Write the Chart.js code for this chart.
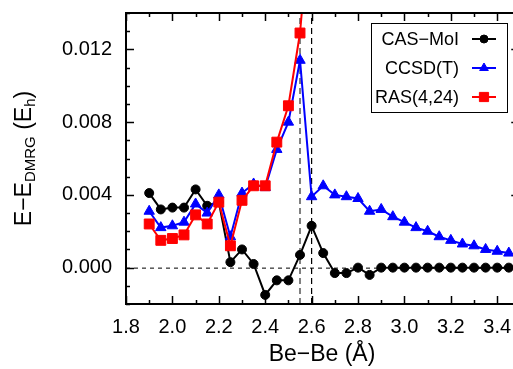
<!DOCTYPE html>
<html><head><meta charset="utf-8">
<script src="https://cdn.jsdelivr.net/npm/chart.js@4/dist/chart.umd.min.js"></script>
<style>html,body{margin:0;padding:0;background:#fff;overflow:hidden}</style>
</head><body>
<canvas id="c" width="513" height="369"></canvas>
<script>
// ---- data ----
const bondLengths = [1.90,1.95,2.00,2.05,2.10,2.15,2.20,2.25,2.30,2.35,2.40,2.45,2.50,2.55,2.60,2.65,2.70,2.75,2.80,2.85,2.90,2.95,3.00,3.05,3.10,3.15,3.20,3.25,3.30,3.35,3.40,3.45];
const casMoI = [0.0041,0.0032,0.0033,0.0033,0.0043,0.0034,0.0036,0.0003,0.0010,0.0002,-0.0015,-0.0007,-0.0007,0.0007,0.0023,0.0008,-0.0003,-0.0003,0.0000,-0.0004,0.0000,0.0000,0.0000,0.0000,0.0000,0.0000,0.0000,0.0000,0.0000,0.0000,0.0000,0.0000];
const ccsdT = [0.0031,0.0022,0.0023,0.0025,0.0035,0.0030,0.0040,0.0017,0.0041,0.0046,0.0044,0.0065,0.0080,0.0114,0.0039,0.0045,0.0040,0.0039,0.0038,0.0031,0.0032,0.0028,0.0025,0.0022,0.0020,0.0017,0.0015,0.0013,0.0012,0.0010,0.0009,0.0008];
const rasBond = [1.90,1.95,2.00,2.05,2.10,2.15,2.20,2.25,2.30,2.35,2.40,2.45,2.50,2.55,2.60];
const ras424 = [0.0024,0.0015,0.0016,0.0018,0.0029,0.0024,0.0036,0.0012,0.0037,0.0045,0.0045,0.0069,0.0089,0.0129,0.0203];
const seriesNames = ['CAS\u2212MoI','CCSD(T)','RAS(4,24)'];
const seriesColors = ['#000000','#0000ff','#ff0000'];
const seriesMarkers = ['circle','triangle','rect'];
const xTickValues = [1.8,2.0,2.2,2.4,2.6,2.8,3.0,3.2,3.4];
const yTickValues = [0.000,0.004,0.008,0.012];
const markerLineGray = 2.55;
const markerLineBlack = 2.60;
const xTitle = 'Be\u2212Be (\u00c5)';

const FONT = '"Liberation Sans", Arial, Helvetica, sans-serif';

function pts(xs, ys){ return xs.map((x,i)=>({x:x, y:ys[i]})); }

function drawMarker(ctx, type, x, y, r, color){
  ctx.save();
  ctx.fillStyle=color; ctx.strokeStyle=color; ctx.setLineDash([]); ctx.lineWidth=1;
  ctx.beginPath();
  if(type==='circle'){ ctx.arc(x,y,r,0,Math.PI*2); }
  else if(type==='triangle'){
    ctx.moveTo(x, y-r); ctx.lineTo(x+r*0.866, y+r*0.5); ctx.lineTo(x-r*0.866, y+r*0.5); ctx.closePath();
  } else { const s=r*0.707; ctx.rect(x-s,y-s,2*s,2*s); }
  ctx.fill(); ctx.stroke();
  ctx.restore();
}

const framePlugin = {
  id:'framePlugin',
  beforeDatasetsDraw(chart){
    const {ctx, chartArea:a, scales:{x,y}} = chart;
    ctx.save();
    ctx.beginPath(); ctx.rect(a.left,a.top,a.right-a.left,a.bottom-a.top); ctx.clip();
    const y0 = y.getPixelForValue(0);
    ctx.strokeStyle='#000'; ctx.lineWidth=1; ctx.setLineDash([4,4]);
    ctx.beginPath(); ctx.moveTo(a.left,y0+0.5); ctx.lineTo(a.right,y0+0.5); ctx.stroke();
    const xg = x.getPixelForValue(markerLineGray);
    ctx.strokeStyle='#808080'; ctx.lineWidth=2; ctx.setLineDash([6,4]);
    ctx.beginPath(); ctx.moveTo(xg,a.bottom); ctx.lineTo(xg,a.top); ctx.stroke();
    const xb = x.getPixelForValue(markerLineBlack);
    ctx.strokeStyle='#000'; ctx.lineWidth=1.2; ctx.setLineDash([6,4]);
    ctx.beginPath(); ctx.moveTo(xb,a.bottom); ctx.lineTo(xb,a.top); ctx.stroke();
    ctx.restore();
  },
  afterDraw(chart){
    const {ctx, chartArea:a, scales:{x,y}} = chart;
    ctx.save();
    // frame
    ctx.strokeStyle='#000'; ctx.lineWidth=2; ctx.setLineDash([]);
    ctx.beginPath();
    ctx.moveTo(a.right+6, a.top); ctx.lineTo(a.left, a.top); ctx.lineTo(a.left, a.bottom); ctx.lineTo(a.right+6, a.bottom);
    ctx.stroke();
    const rightAxis = x.getPixelForValue(3.495);
    // x ticks (every 0.1, major every 0.2)
    ctx.lineWidth=1.5;
    for(let k=18;k<=35;k++){
      const px = Math.round(x.getPixelForValue(k/10))+0.5;
      const len = (k%2===0)?8:4;
      ctx.beginPath();
      ctx.moveTo(px,a.bottom); ctx.lineTo(px,a.bottom-len);
      ctx.moveTo(px,a.top); ctx.lineTo(px,a.top+len);
      ctx.stroke();
    }
    // y ticks every 0.001, major every 0.004
    for(let k=-2;k<=14;k++){
      const py = Math.round(y.getPixelForValue(k/1000))+0.5;
      const len = (k%4===0)?8:4;
      ctx.beginPath();
      ctx.moveTo(a.left,py); ctx.lineTo(a.left+len,py);
      ctx.moveTo(rightAxis,py); ctx.lineTo(rightAxis-len,py);
      ctx.stroke();
    }
    // legend
    const lx0=371, ly0=23, lx1=507, ly1=112;
    ctx.fillStyle='#fff'; ctx.fillRect(lx0,ly0,lx1-lx0,ly1-ly0);
    ctx.strokeStyle='#000'; ctx.lineWidth=1;
    ctx.strokeRect(lx0+0.5,ly0+0.5,lx1-lx0,ly1-ly0);
    const rowsY=[39,68,97];
    ctx.font='18px '+FONT; ctx.textAlign='right'; ctx.textBaseline='middle';
    for(let i=0;i<3;i++){
      ctx.fillStyle='#000';
      ctx.fillText(seriesNames[i], 459, rowsY[i]+1);
      ctx.strokeStyle=seriesColors[i]; ctx.lineWidth=2;
      ctx.beginPath(); ctx.moveTo(472,rowsY[i]); ctx.lineTo(496,rowsY[i]); ctx.stroke();
      drawMarker(ctx, seriesMarkers[i], 484, rowsY[i], i===0?4:(i===1?5:6.5), seriesColors[i]);
    }
    // x title
    ctx.fillStyle='#000'; ctx.font='23px '+FONT; ctx.textAlign='center'; ctx.textBaseline='middle';
    ctx.fillText(xTitle, 322, 355);
    // y title with subscripts
    const parts=[['E\u2212E',23,0],['DMRG',15,4],[' (E',23,0],['h',15,4],[')',23,0]];
    let total=0;
    parts.forEach(p=>{ctx.font=p[1]+'px '+FONT; p.push(ctx.measureText(p[0]).width); total+=p[3];});
    ctx.translate(23, (a.top+a.bottom)/2);
    ctx.rotate(-Math.PI/2);
    ctx.textAlign='left'; ctx.textBaseline='alphabetic';
    let cx=-total/2;
    const base = 0.358*23;
    parts.forEach(p=>{ctx.font=p[1]+'px '+FONT; ctx.fillText(p[0], cx, base+p[2]); cx+=p[3];});
    ctx.restore();
  }
};

const chart = new Chart(document.getElementById('c'), {
  type:'line',
  data:{ datasets:[
    {label:seriesNames[0], data:pts(bondLengths,casMoI), borderColor:seriesColors[0], backgroundColor:seriesColors[0], pointStyle:'circle', pointRadius:4.5, pointBorderWidth:1, borderWidth:2, order:2},
    {label:seriesNames[1], data:pts(bondLengths,ccsdT), borderColor:seriesColors[1], backgroundColor:seriesColors[1], pointStyle:'triangle', pointRadius:6, pointBorderWidth:1, borderWidth:2, order:1},
    {label:seriesNames[2], data:pts(rasBond,ras424), borderColor:seriesColors[2], backgroundColor:seriesColors[2], pointStyle:'rect', pointRadius:7, pointBorderWidth:1, borderWidth:2, order:0}
  ]},
  options:{
    responsive:false, animation:false, devicePixelRatio:1,
    layout:{autoPadding:false, padding:{top:13,right:0,left:0,bottom:0}},
    plugins:{legend:{display:false}, tooltip:{enabled:false}},
    elements:{line:{tension:0}},
    scales:{
      x:{type:'linear', min:1.8, max:3.468,
         grid:{display:false, drawTicks:false}, border:{display:false},
         afterBuildTicks:s=>{s.ticks=xTickValues.map(v=>({value:v}));},
         afterFit:s=>{s.height=65; s.paddingLeft=0; s.paddingRight=0;},
         ticks:{padding:11, color:'#000', font:{size:20, family:FONT}, maxRotation:0, autoSkip:false, callback:v=>Number(v).toFixed(1)}},
      y:{type:'linear', min:-0.002, max:0.014,
         grid:{display:false, drawTicks:false}, border:{display:false},
         afterBuildTicks:s=>{s.ticks=yTickValues.map(v=>({value:v}));},
         afterFit:s=>{s.width=126; s.paddingTop=0; s.paddingBottom=0;},
         ticks:{padding:14, color:'#000', font:{size:20, family:FONT}, callback:v=>Number(v).toFixed(3)}}
    }
  },
  plugins:[framePlugin]
});
</script>
</body></html>
